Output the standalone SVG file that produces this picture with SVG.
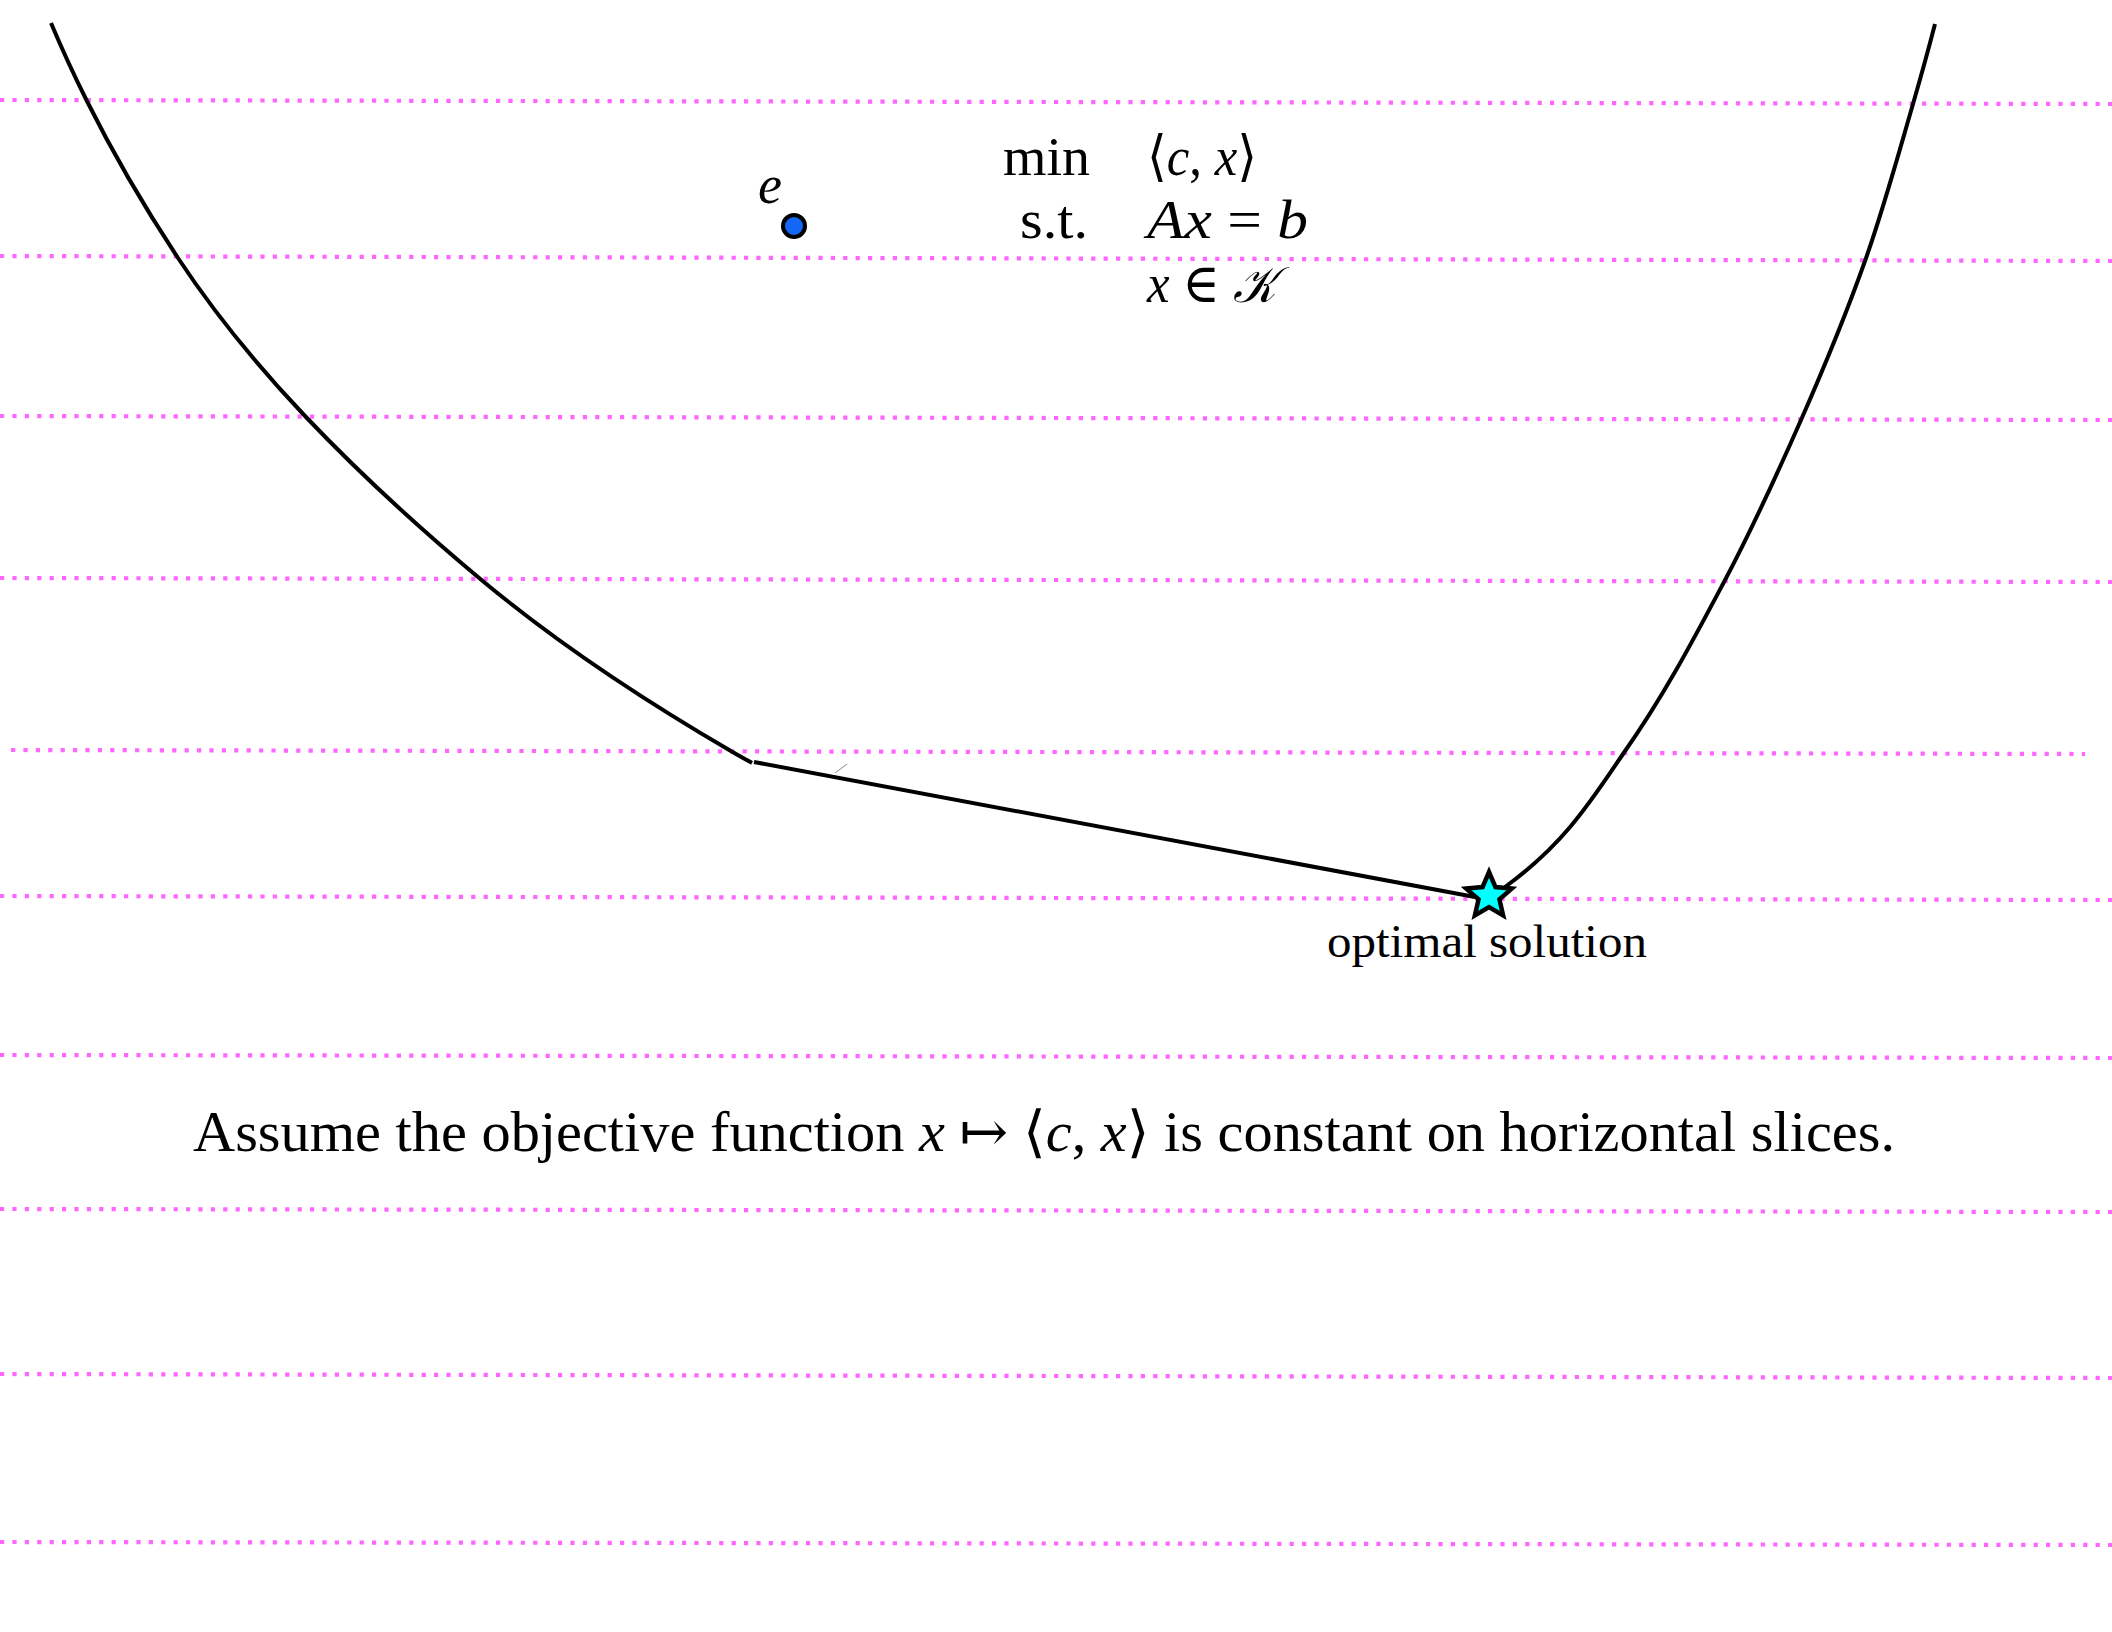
<svg xmlns="http://www.w3.org/2000/svg" width="2112" height="1632" viewBox="0 0 2112 1632">
<style>
.slice{stroke:#ff66ff;stroke-width:4.2;stroke-dasharray:4.2 8.2;fill:none}
.curve{stroke:#000;stroke-width:4;fill:none;stroke-linecap:butt}
.t{font-family:"Liberation Serif","DejaVu Serif",serif;fill:#000}
.i{font-style:italic}
.m{font-family:"DejaVu Serif","Liberation Serif",serif;font-style:normal}
</style>
<rect width="2112" height="1632" fill="#fff"/>
<g id="slices">
<line class="slice" x1="0" y1="100" x2="2112" y2="104"/>
<line class="slice" x1="0" y1="256" x2="2112" y2="261"/>
<line class="slice" x1="0" y1="416" x2="2112" y2="420"/>
<line class="slice" x1="0" y1="578" x2="2112" y2="582"/>
<line class="slice" x1="11" y1="750" x2="2085" y2="754"/>
<line class="slice" x1="0" y1="896" x2="2112" y2="900"/>
<line class="slice" x1="0" y1="1055" x2="2112" y2="1058"/>
<line class="slice" x1="0" y1="1209" x2="2112" y2="1212"/>
<line class="slice" x1="0" y1="1374" x2="2112" y2="1378"/>
<line class="slice" x1="0" y1="1542" x2="2112" y2="1545"/>
</g>
<g id="connectors">
<path id="left-boundary" class="curve" d="M51,23 C61.8,48.7 73.6,74.3 86.4,100 C112.7,152.7 143.2,205.3 178,258 C212.8,310.7 255,363.3 305,416 C356.9,470.7 415.9,525.3 481.5,580 C550.3,637.3 634,694.7 732.6,752 C738.9,755.7 745.4,759.3 752,763"/>
<path id="face-edge" class="curve" stroke-width="4.4" d="M754,762 L1475,897"/>
<path id="right-boundary" class="curve" d="M1505,887 C1565,843.5 1592,799.5 1623,754 C1663.5,696.7 1693.6,639.3 1724,582 C1752.6,528 1777.2,474 1801,420 C1824.3,367 1846.2,314 1865,261 C1883.6,208.7 1897.8,156.3 1913,104 C1920.7,77.3 1928.1,50.7 1935,24"/>
<line x1="835" y1="773" x2="847" y2="764" stroke="#888" stroke-width="1"/>
</g>
<g id="point-e">
<circle cx="794" cy="226" r="11" fill="#1466f5" stroke="#000" stroke-width="4"/>
<text class="t i" x="758" y="203" font-size="54">e</text>
</g>
<g id="problem">
<text class="t" x="1003" y="175" font-size="55" textLength="87" lengthAdjust="spacingAndGlyphs">min</text>
<text class="t" x="1147" y="175" font-size="55" textLength="110" lengthAdjust="spacingAndGlyphs"><tspan class="m">⟨</tspan><tspan class="i">c</tspan>, <tspan class="i">x</tspan><tspan class="m">⟩</tspan></text>
<text class="t" x="1020" y="238" font-size="55" textLength="68" lengthAdjust="spacingAndGlyphs">s.t.</text>
<text class="t" x="1147" y="238" font-size="55" textLength="161" lengthAdjust="spacingAndGlyphs"><tspan class="i">Ax</tspan> = <tspan class="i">b</tspan></text>
<text class="t" x="1147" y="302" font-size="55" textLength="128" lengthAdjust="spacingAndGlyphs"><tspan class="i">x</tspan> ∈ <tspan class="i" font-size="50">𝒦</tspan></text>
</g>
<g id="optimal-solution">
<path d="M0,-24 L6.47,-8.9 L22.83,-7.42 L10.46,3.4 L14.11,19.42 L0,11 L-14.11,19.42 L-10.46,3.4 L-22.83,-7.42 L-6.47,-8.9 Z" transform="translate(1489,896)" fill="#00ffff" stroke="#000" stroke-width="4.5" stroke-linejoin="miter"/>
<text class="t" x="1327" y="957" font-size="47" textLength="320" lengthAdjust="spacingAndGlyphs">optimal solution</text>
</g>
<g id="caption">
<text class="t" x="193" y="1151" font-size="56" textLength="1702" lengthAdjust="spacingAndGlyphs">Assume the objective function <tspan class="i">x</tspan> <tspan class="m">↦</tspan> <tspan class="m">⟨</tspan><tspan class="i">c</tspan>, <tspan class="i">x</tspan><tspan class="m">⟩</tspan> is constant on horizontal slices.</text>
</g>
</svg>
